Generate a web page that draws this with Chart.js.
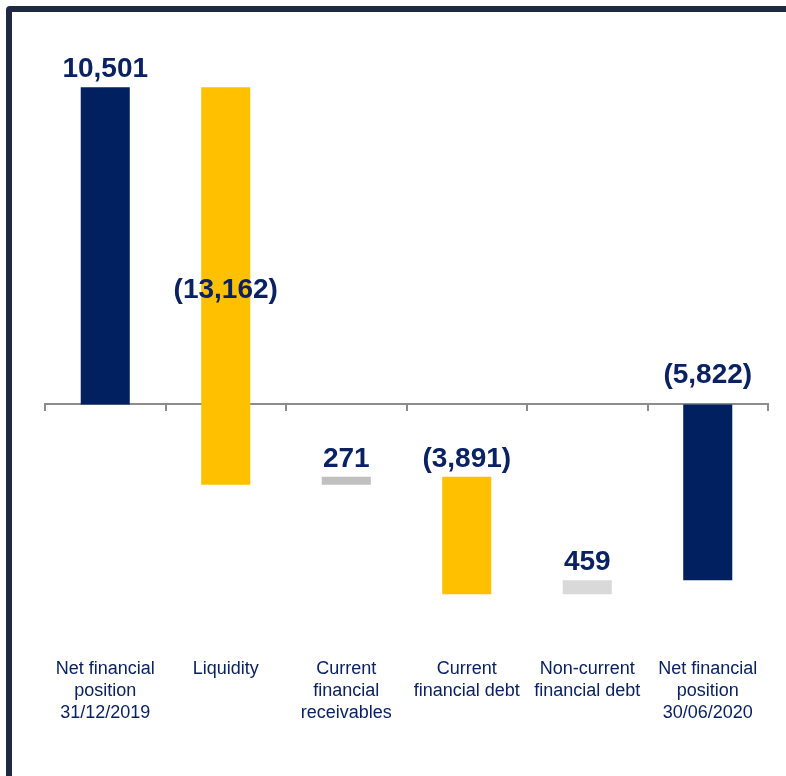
<!DOCTYPE html>
<html>
<head>
<meta charset="utf-8">
<script src="https://cdn.jsdelivr.net/npm/chart.js@4/dist/chart.umd.min.js"></script>
<style>
  html, body { margin: 0; padding: 0; background: #fff; overflow: hidden; }
  #wrap { position: relative; width: 786px; height: 776px; }
  #frame { position: absolute; left: 6px; top: 6px; width: 800px; height: 800px;
           border: 6px solid #1f2944; border-radius: 4px; box-sizing: border-box; }
  canvas { position: absolute; left: 0; top: 0; }
</style>
</head>
<body>
<div id="wrap">
  <div id="frame"></div>
  <canvas id="chart" width="786" height="776"></canvas>
</div>
<script>
// waterfall: posizione finanziaria netta 31/12/2019 -> 30/06/2020
const categories = [
  ["Net financial", "position", "31/12/2019"],
  ["Liquidity"],
  ["Current", "financial", "receivables"],
  ["Current", "financial debt"],
  ["Non-current", "financial debt"],
  ["Net financial", "position", "30/06/2020"]
]
const changes = [10501, -13162, 271, -3891, 459, -5822]
const isTotal = [true, false, false, false, false, true]
const valueLabels = ["10,501", "(13,162)", "271", "(3,891)", "459", "(5,822)"]
const barColors = ["#002060", "#ffc000", "#c0c0c0", "#ffc000", "#d9d9d9", "#002060"]

// build floating ranges from the changes
let running = 0
const ranges = changes.map((v, i) => {
  if (isTotal[i]) { running = v; return [0, v] }
  const start = running
  running += v
  return [start, running]
})

const labelPlugin = {
  id: "waterfallLabels",
  afterDatasetsDraw(chart) {
    const ctx = chart.ctx
    const meta = chart.getDatasetMeta(0)
    ctx.save()
    ctx.fillStyle = "#0b2262"
    ctx.font = "bold 28px 'Liberation Sans', Arial, sans-serif"
    ctx.textAlign = "center"
    meta.data.forEach((bar, i) => {
      const top = Math.min(bar.y, bar.base)
      const bottom = Math.max(bar.y, bar.base)
      if (i === 1) {
        ctx.textBaseline = "middle"
        ctx.fillText(valueLabels[i], bar.x, (top + bottom) / 2 + 4)
      } else {
        ctx.textBaseline = "alphabetic"
        const gap = (isTotal[i] && changes[i] < 0) ? 21 : 10
        ctx.fillText(valueLabels[i], bar.x, top - gap)
      }
    })
    ctx.restore()
  }
}

new Chart(document.getElementById("chart"), {
  type: "bar",
  data: {
    labels: categories,
    datasets: [{
      data: ranges,
      backgroundColor: barColors,
      borderWidth: 0,
      categoryPercentage: 1,
      barPercentage: 0.407
    }]
  },
  options: {
    responsive: false,
    animation: false,
    layout: { padding: { left: 45, right: 18, top: 42, bottom: 40 } },
    plugins: { legend: { display: false }, tooltip: { enabled: false } },
    scales: {
      x: {
        offset: true,
        grid: { display: false, drawTicks: false },
        border: { display: false },
        ticks: {
          padding: 12,
          color: "#0b2262",
          maxRotation: 0,
          autoSkip: false,
          font: { family: "'Liberation Sans', Arial, sans-serif", size: 18, lineHeight: 1.22 }
        }
      },
      x2: {
        type: "category",
        position: { y: 0 },
        offset: true,
        grid: { offset: true, drawOnChartArea: false, drawTicks: true, tickLength: 6, color: "#8c8c8c", lineWidth: 2 },
        border: { display: true, color: "#8c8c8c", width: 2 },
        ticks: { display: false }
      },
      y: {
        display: false,
        min: -8000,
        max: 12000
      }
    }
  },
  plugins: [labelPlugin]
})
</script>
</body>
</html>
